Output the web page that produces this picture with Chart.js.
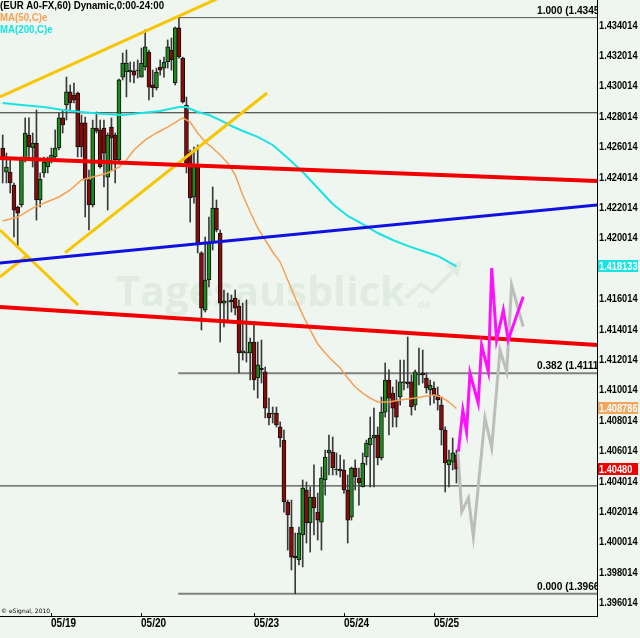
<!DOCTYPE html>
<html><head><meta charset="utf-8">
<script src="https://cdn.jsdelivr.net/npm/chart.js@4.4.1/dist/chart.umd.min.js"></script>
<style>html,body{margin:0;padding:0;background:#eff6ef;overflow:hidden}canvas{display:block}</style>
</head><body>
<canvas id="c" width="640" height="638"></canvas>
<script>
// ---------- data (hourly EUR/USD bars, index 0 = first visible hour) ----------
const barOpen = [1.42592,1.42434,1.42434,1.42349,1.42204,1.42217,1.42513,1.42678,1.42592,1.42625,
1.42250,1.42428,1.42467,1.42513,1.42533,1.42592,1.42790,1.42875,1.42961,1.42941,
1.42954,1.42757,1.42757,1.42382,1.42217,1.42724,1.42711,1.42724,1.42401,1.42730,
1.42678,1.42513,1.43059,1.43092,1.43092,1.43099,1.43099,1.43059,1.43125,1.43224,
1.43007,1.42987,1.43125,1.43118,1.43158,1.43237,1.43020,1.43382,1.43184,1.42875,
1.42566,1.42270,1.42480,1.41902,1.41526,1.41724,1.41974,1.42197,1.42033,1.41572,
1.41579,1.41592,1.41605,1.41553,1.41244,1.41244,1.41244,1.41316,1.41079,1.41145,
1.41119,1.40849,1.40842,1.40849,1.40757,1.40671,1.40263,1.40098,1.39908,1.39882,
1.40046,1.40342,1.40125,1.40296,1.40197,1.40131,1.40408,1.40586,1.40592,1.40474,
1.40480,1.40474,1.40342,1.40164,1.40487,1.40421,1.40362,1.40559,1.40638,1.40684,
1.40704,1.40553,1.40855,1.41066,1.40980,1.40934,1.40954,1.41046,1.41053,1.41053,
1.40901,1.41099,1.41112,1.41079,1.41000,1.41013,1.40967,1.40901,1.40737,1.40507,
1.40526,1.40572];
const barHigh = [1.42678,1.42559,1.42513,1.42362,1.42210,1.42533,1.42790,1.42790,1.42691,1.42842,
1.42428,1.42533,1.42533,1.42592,1.42711,1.42822,1.42842,1.43059,1.43007,1.43020,
1.42961,1.42809,1.42796,1.42447,1.42776,1.42829,1.42776,1.42776,1.42691,1.42790,
1.42691,1.43046,1.43217,1.43237,1.43158,1.43158,1.43171,1.43250,1.43369,1.43237,
1.43105,1.43118,1.43171,1.43191,1.43303,1.43316,1.43388,1.43450,1.43190,1.42928,
1.42579,1.42599,1.42612,1.41910,1.42007,1.42138,1.42336,1.42250,1.42053,1.41658,
1.41638,1.41625,1.41658,1.41592,1.41572,1.41592,1.41342,1.41448,1.41316,1.41329,
1.41151,1.40947,1.40888,1.40888,1.40790,1.40737,1.40276,1.40276,1.40059,1.40098,
1.40408,1.40395,1.40362,1.40507,1.40322,1.40493,1.40605,1.40704,1.40691,1.40586,
1.40572,1.40540,1.40441,1.40493,1.40540,1.40487,1.40586,1.40671,1.40822,1.40881,
1.40757,1.40954,1.41178,1.41132,1.41020,1.41066,1.41197,1.41197,1.41349,1.41099,
1.41132,1.41276,1.41263,1.41112,1.41066,1.41053,1.41020,1.40954,1.40757,1.40605,
1.40684,1.40605];
const barLow = [1.42362,1.42362,1.42296,1.42007,1.41941,1.42204,1.42500,1.42526,1.42467,1.42118,
1.42204,1.42401,1.42428,1.42493,1.42513,1.42579,1.42691,1.42776,1.42842,1.42888,
1.42533,1.42533,1.42138,1.42053,1.42204,1.42691,1.42460,1.42336,1.42184,1.42447,
1.42362,1.42493,1.43040,1.42928,1.43026,1.43020,1.43052,1.43059,1.43105,1.42908,
1.42928,1.42974,1.43072,1.43059,1.43118,1.43105,1.43007,1.43184,1.42888,1.42428,
1.42105,1.42230,1.41902,1.41395,1.41513,1.41678,1.41921,1.42040,1.41316,1.41415,
1.41461,1.41513,1.41494,1.41112,1.41197,1.41184,1.41066,1.41000,1.40947,1.41046,
1.40816,1.40770,1.40783,1.40757,1.40625,1.40197,1.39947,1.39816,1.39660,1.39849,
1.39836,1.39993,1.39934,1.40046,1.40013,1.39947,1.40309,1.40441,1.40441,1.40441,
1.40428,1.40322,1.39993,1.40144,1.40342,1.40243,1.40362,1.40507,1.40362,1.40362,
1.40507,1.40540,1.40822,1.40704,1.40757,1.40757,1.40901,1.41000,1.41013,1.40835,
1.40868,1.41033,1.41046,1.40980,1.40901,1.40914,1.40868,1.40638,1.40329,1.40362,
1.40474,1.40388];
const barClose = [1.42513,1.42467,1.42362,1.42184,1.42164,1.42513,1.42691,1.42599,1.42625,1.42250,
1.42388,1.42500,1.42513,1.42546,1.42592,1.42790,1.42744,1.42961,1.42888,1.42908,
1.42599,1.42599,1.42382,1.42217,1.42724,1.42704,1.42467,1.42559,1.42678,1.42658,
1.42513,1.43040,1.43151,1.43151,1.43105,1.43072,1.43105,1.43151,1.43257,1.42993,
1.42987,1.43092,1.43105,1.43158,1.43257,1.43171,1.43382,1.43191,1.42895,1.42493,
1.42263,1.42480,1.41954,1.41539,1.41724,1.41967,1.42197,1.42053,1.41572,1.41586,
1.41582,1.41579,1.41539,1.41244,1.41257,1.41250,1.41316,1.41066,1.41165,1.41132,
1.40881,1.40816,1.40849,1.40770,1.40684,1.40263,1.40178,1.39901,1.39895,1.40059,
1.40355,1.40125,1.40296,1.40224,1.40144,1.40421,1.40559,1.40605,1.40487,1.40480,
1.40467,1.40342,1.40144,1.40487,1.40428,1.40388,1.40520,1.40651,1.40684,1.40704,
1.40553,1.40855,1.41066,1.40947,1.40881,1.40822,1.41053,1.41053,1.41040,1.40888,
1.41119,1.41105,1.41099,1.41013,1.41033,1.40967,1.40934,1.40737,1.40520,1.40540,
1.40586,1.40480];

const ma50Idx = [0,4,8,11,15,18,21,24,28,31,33,35,38,41,44,47,48,50,52,54,56,58,60,62,64,66,68,70,72,74,76,78,80,82,84,86,88,90,92,94,96,98,100,103,106,110,113,115,117,119,121];
const ma50Val = [1.42112,1.42138,1.42197,1.42230,1.42270,1.42316,1.42382,1.42401,1.42428,1.42467,1.42513,1.42579,1.42645,1.42691,1.42730,1.42776,1.42790,1.42763,1.42691,1.42632,1.42592,1.42546,1.42493,1.42415,1.42283,1.42171,1.42066,1.41987,1.41908,1.41842,1.41724,1.41605,1.41494,1.41395,1.41303,1.41244,1.41191,1.41145,1.41079,1.41020,1.40980,1.40947,1.40921,1.40921,1.40934,1.40947,1.40960,1.40967,1.40954,1.40921,1.408786];
const ma200Idx = [0,5,11,16,21,27,32,37,42,47,49,52,55,58,61,64,68,72,76,80,84,88,92,96,100,104,108,112,116,121];
const ma200Val = [1.42888,1.42875,1.42862,1.42842,1.42829,1.42816,1.42809,1.42822,1.42835,1.42862,1.42862,1.42829,1.42809,1.42776,1.42737,1.42704,1.42665,1.42612,1.42526,1.42434,1.42329,1.42224,1.42145,1.42092,1.42033,1.41987,1.41948,1.41915,1.41882,1.418133];

// drawn trend lines: [startIdx, startPrice, endIdx, endPrice]
const redUpper   = [-0.72, 1.42526, 158.5, 1.42375];
const redLower   = [-0.72, 1.41546, 158.5, 1.41296];
const blueLine   = [-0.72, 1.41836, 158.5, 1.42217];
const yellowTop  = [-0.72, 1.42928, 60.6, 1.43612];
const yellowLow  = [16.6, 1.41902, 70.5, 1.42954];
const yellowX1   = [-0.72, 1.42053, 20.1, 1.41559];
const yellowX2   = [-0.72, 1.41744, 6.75, 1.41888];
// horizontal levels
const levelFull  = [1.42824, 1.40369];
const fibStart   = 46.8;
const fibLevels  = [1.4345, 1.4111, 1.3966];
const fibNames   = ['1.000 (1.4345)', '0.382 (1.4111)', '0.000 (1.3966)'];
// projections
const magentaIdx = [121.5,122.7,123.7,124.6,126.8,127.7,129.5,130.4,131.7,133.5,134.8,138.8];
const magentaVal = [1.40594,1.40868,1.40726,1.41112,1.40914,1.41296,1.41120,1.41803,1.41329,1.41526,1.41329,1.41614];
const grayIdx    = [121.4,122.4,124.2,125.5,128.6,130.4,132.6,134.4,135.7,138.8];
const grayVal    = [1.40586,1.40199,1.40290,1.40035,1.40816,1.40619,1.41263,1.41120,1.41691,1.41417];

// axes
const dayTickIdx = [13, 37, 67, 91, 115];
const dayLabels  = ['05/19', '05/20', '05/23', '05/24', '05/25'];
const yTickVals  = [1.434014,1.432014,1.430014,1.428014,1.426014,1.424014,1.422014,1.420014,1.416014,1.414014,1.412014,1.410014,1.408014,1.406014,1.404014,1.402014,1.400014,1.398014,1.396014];
const lastMA200 = 1.418133, lastMA50 = 1.408786, lastClose = 1.40480;
const yMin = 1.395132, yMax = 1.435659, xMin = -0.72, xMax = 158.48;

// ---------- styling ----------
const BG = '#eff6ef';
const SANS = '"Liberation Sans",Arial,sans-serif';
const GREEN = '#1b8a1b', DRED = '#8a0a0a';

const seg = a => [{x:a[0], y:a[1]}, {x:a[2], y:a[3]}];
const pts = (xs, ys) => xs.map((x,i)=>({x, y: ys[i]}));
const lineDs = (data, color, width, order) => ({type:'line', data, borderColor:color, borderWidth:width, pointRadius:0, tension:0, fill:false, order, borderCapStyle:'butt'});

const datasets = [];
levelFull.forEach(v => datasets.push(lineDs([{x:xMin,y:v},{x:xMax+1,y:v}], '#2a2a2a', 1, 20)));
fibLevels.forEach((v,k) => datasets.push(lineDs([{x:fibStart,y:v},{x:xMax+1,y:v}], k===0?'#555':'#808080', k===0?1:2, 19)));
datasets.push({type:'bar', data: barLow.map((l,i)=>({x:i, y:[l, barHigh[i]]})), backgroundColor:'#3a3a3a', barThickness:1, grouped:false, order:15});
datasets.push({type:'bar', data: barOpen.map((o,i)=>({x:i, y:[o, barClose[i]]})),
  backgroundColor: barOpen.map((o,i)=> barClose[i] >= o ? GREEN : DRED),
  borderColor:'#111', borderWidth:1, borderSkipped:false, barThickness:4, grouped:false, order:14});
datasets.push(lineDs(pts(ma50Idx, ma50Val), '#f5a055', 1.5, 12));
datasets.push(lineDs(pts(ma200Idx, ma200Val), '#19e3e3', 2, 11));
[yellowTop, yellowLow, yellowX1, yellowX2].forEach(a => datasets.push(lineDs(seg(a), '#f7c600', 3, 9)));
datasets.push(lineDs(seg(blueLine), '#1010e0', 3, 8));
datasets.push(lineDs(seg(redUpper), '#f00000', 4, 7));
datasets.push(lineDs(seg(redLower), '#f00000', 4, 7));
datasets.push(lineDs(pts(grayIdx, grayVal), '#bdbdbd', 3, 3));
datasets.push(lineDs(pts(magentaIdx, magentaVal), '#ff10ff', 3, 2));

// bold text squeezed horizontally, imitating the narrow chart font
function squeezed(c, txt, x, y, color, size, sx) {
  c.save();
  c.font = `bold ${size || 11}px ${SANS}`;
  c.fillStyle = color; c.textAlign = 'left'; c.textBaseline = 'middle';
  c.translate(x, y); c.scale(sx || 0.84, 1); c.fillText(txt, 0, 0);
  c.restore();
}

const overlay = {
  id: 'overlay',
  beforeDraw(chart) {
    const c = chart.ctx; c.save(); c.fillStyle = BG; c.fillRect(0,0,chart.width,chart.height); c.restore();
  },
  beforeDatasetsDraw(chart) {
    const c = chart.ctx; c.save();
    c.fillStyle = '#e1ece0'; c.strokeStyle = '#e1ece0';
    let fs = 40; c.font = `bold ${fs}px "Open Sans",Lato,sans-serif`;
    const w = c.measureText('Tagesausblick').width; fs = fs * 290 / w;
    c.font = `bold ${fs}px "Open Sans",Lato,sans-serif`;
    c.textBaseline = 'alphabetic'; c.textAlign = 'left';
    c.fillText('Tagesausblick', 116, 306);
    c.lineWidth = 4; c.lineJoin = 'round';
    c.beginPath(); c.moveTo(406,298); c.lineTo(421,284); c.lineTo(432,292); c.lineTo(452,272); c.stroke();
    c.beginPath(); c.moveTo(462,261); c.lineTo(446,265); c.lineTo(458,277); c.closePath(); c.fill();
    c.font = 'bold 10px "Open Sans",sans-serif'; c.fillText('de', 418, 308);
    c.restore();
  },
  afterDraw(chart) {
    const c = chart.ctx, a = chart.chartArea, ys = chart.scales.y, xs = chart.scales.x;
    // fib labels (clipped by the price axis, as in the source)
    c.save();
    c.beginPath(); c.rect(a.left, a.top, a.right - a.left, a.bottom - a.top); c.clip();
    fibLevels.forEach((v,k) => squeezed(c, fibNames[k], a.right - 60, ys.getPixelForValue(v) - 7, '#000', 11, 0.92));
    c.restore();
    // price axis labels from the scale's ticks
    ys.ticks.forEach(t => squeezed(c, Number(t.value).toFixed(6), a.right + 2, ys.getPixelForValue(t.value) + 0.5, '#000'));
    // date axis labels and small tick marks
    c.save(); c.strokeStyle = '#000'; c.lineWidth = 1;
    xs.ticks.forEach(t => {
      const px = Math.round(xs.getPixelForValue(t.value)) + 0.5;
      c.beginPath(); c.moveTo(px, a.bottom - 3); c.lineTo(px, a.bottom); c.stroke();
      squeezed(c, dayLabels[dayTickIdx.indexOf(t.value)], px - 0.5, a.bottom + 8, '#000', 12);
    });
    c.restore();
    // legend
    squeezed(c, '(EUR A0-FX,60) Dynamic,0:00-24:00', 0, 6, '#000', 11, 0.88);
    squeezed(c, 'MA(50,C)e', 0, 18, '#f5a055', 11, 0.88);
    squeezed(c, 'MA(200,C)e', 0, 30, '#19e3e3', 11, 0.88);
    // value boxes on the axis
    const box = (v, txt, bg) => {
      const y = ys.getPixelForValue(v);
      c.save(); c.fillStyle = bg; c.fillRect(a.right + 1, Math.round(y) - 6, 40, 12); c.restore();
      squeezed(c, txt, a.right + 2, y + 0.5, '#fff');
    };
    box(lastMA200, lastMA200.toFixed(6), '#19e3e3');
    box(lastMA50, lastMA50.toFixed(6), '#f2a65e');
    box(lastClose, lastClose.toFixed(5), '#ee0000');
    // copyright
    c.save(); c.fillStyle = '#000'; c.font = '6px "DejaVu Sans",sans-serif'; c.textBaseline = 'middle';
    c.fillText('\u00a9 eSignal, 2010', 1, 611); c.restore();
  }
};

new Chart(document.getElementById('c'), {
  type: 'line',
  data: { datasets },
  plugins: [overlay],
  options: {
    responsive: false, devicePixelRatio: 1, animation: false, events: [],
    layout: { padding: 0 },
    plugins: { legend: {display:false}, tooltip: {enabled:false}, title: {display:false} },
    scales: {
      x: {
        type: 'linear', min: xMin, max: xMax, position: 'bottom', offset: false,
        grid: { display: false, drawTicks: false, offset: false },
        border: { display: true, color: '#000', width: 1 },
        afterBuildTicks: s => { s.ticks = dayTickIdx.map(v => ({value: v})); },
        ticks: { display: false, autoSkip: false },
        afterFit: s => { s.height = 22; s.paddingLeft = 0; s.paddingRight = 0; }
      },
      y: {
        type: 'linear', position: 'right', min: yMin, max: yMax,
        grid: { display: false, drawTicks: false },
        border: { display: true, color: '#000', width: 1 },
        afterBuildTicks: s => { s.ticks = yTickVals.map(v => ({value: v})); },
        ticks: { display: false, autoSkip: false },
        afterFit: s => { s.width = 43; s.paddingTop = 0; s.paddingBottom = 0; }
      }
    }
  }
});
</script>
</body></html>
